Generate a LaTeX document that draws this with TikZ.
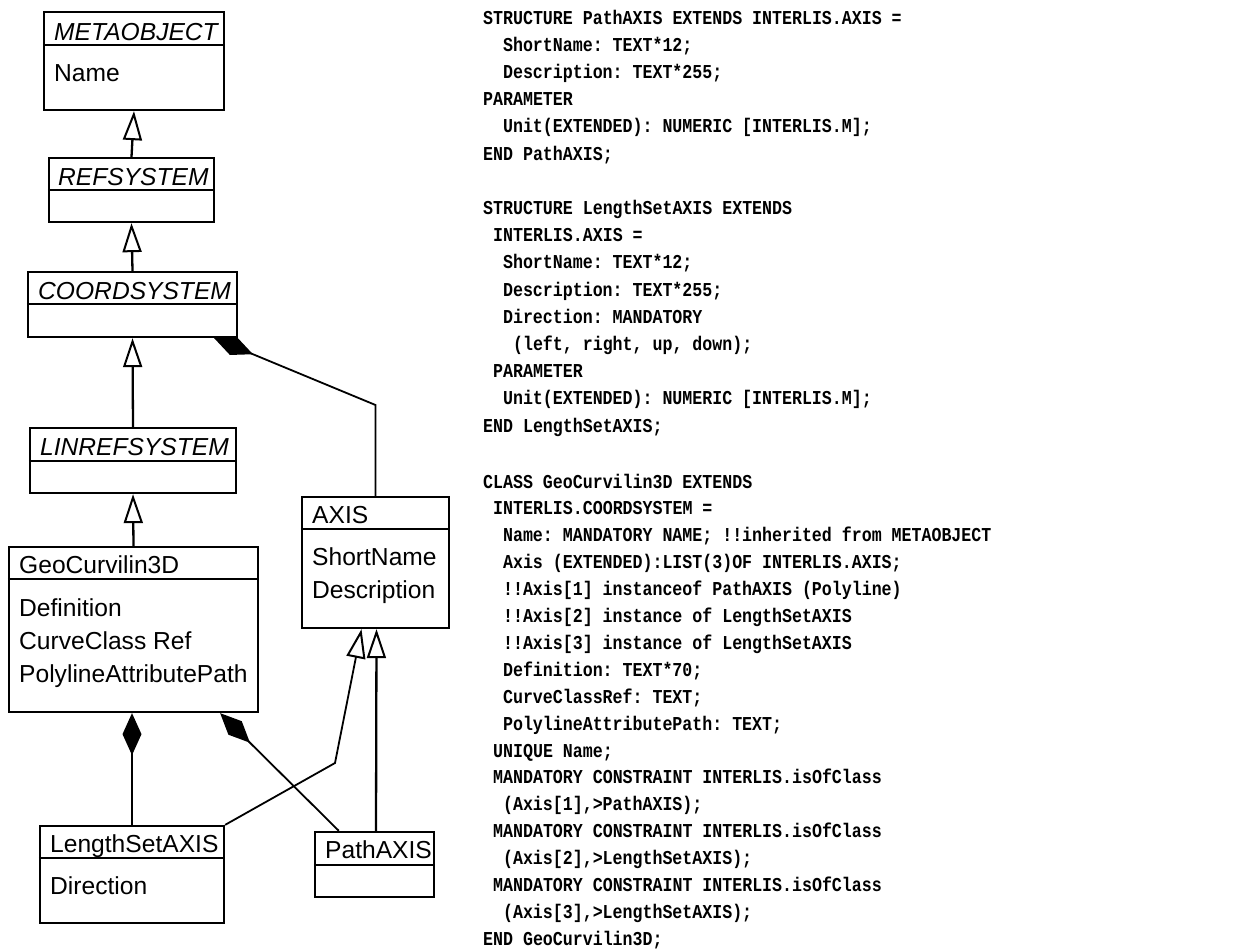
\documentclass[tikz,border=0pt]{standalone}
\usepackage{fontspec}
\setmainfont{Liberation Sans}
\newfontfamily\codefont{Liberation Mono}[FakeStretch=0.843]
\usetikzlibrary{arrows.meta}
\begin{document}
\begin{tikzpicture}[x=1pt,y=-1pt,
  box/.style={draw, line width=2.3pt, fill=white, inner sep=0pt},
  divl/.style={line width=2.1pt},
  hdr/.style={anchor=base west, inner sep=0pt, font=\fontsize{24.6pt}{26pt}\selectfont\itshape},
  hdrup/.style={anchor=base west, inner sep=0pt, font=\fontsize{24.6pt}{26pt}\selectfont},
  attr/.style={anchor=base west, inner sep=0pt, font=\fontsize{24.6pt}{26pt}\selectfont},
  code/.style={anchor=base west, inner sep=0pt, font=\frenchspacing\codefont\bfseries\fontsize{19.7pt}{22pt}\selectfont},
  gen/.style={line width=2.3pt, -{Triangle[length=29pt,width=19pt,fill=white,line width=2pt]}},
  genthin/.style={line width=1.8pt, -{Triangle[length=29pt,width=19pt,fill=white,line width=2pt]}},
  comp/.style={line width=1.8pt, {Diamond[length=42pt,width=19pt]}-},
  compthick/.style={line width=2.3pt, {Diamond[length=42pt,width=19pt]}-}
]
\useasboundingbox (0,0) rectangle (1234,951);

% ---------- class boxes ----------
\node[box, minimum width=180pt, minimum height=98pt] (meta) at (134,61) {};
\draw[divl] ([yshift=-34pt]meta.north west) -- ([yshift=-34pt]meta.north east);
\node[box, minimum width=165pt, minimum height=64pt] (ref) at (131.5,190) {};
\draw[divl] ([yshift=-33pt]ref.north west) -- ([yshift=-33pt]ref.north east);
\node[box, minimum width=209pt, minimum height=65pt] (coord) at (132.5,304.5) {};
\draw[divl] ([yshift=-33pt]coord.north west) -- ([yshift=-33pt]coord.north east);
\node[box, minimum width=206pt, minimum height=65pt] (linref) at (133,460.5) {};
\draw[divl] ([yshift=-34pt]linref.north west) -- ([yshift=-34pt]linref.north east);
\node[box, minimum width=249pt, minimum height=165pt] (geo) at (133.5,629.5) {};
\draw[divl] ([yshift=-33pt]geo.north west) -- ([yshift=-33pt]geo.north east);
\node[box, minimum width=147pt, minimum height=131pt] (axis) at (375.5,562.5) {};
\draw[divl] ([yshift=-33pt]axis.north west) -- ([yshift=-33pt]axis.north east);
\node[box, minimum width=184pt, minimum height=97pt] (lsa) at (132,874.5) {};
\draw[divl] ([yshift=-33pt]lsa.north west) -- ([yshift=-33pt]lsa.north east);
\node[box, minimum width=119pt, minimum height=65pt] (path) at (374.5,864.5) {};
\draw[divl] ([yshift=-34pt]path.north west) -- ([yshift=-34pt]path.north east);

% ---------- texts in boxes ----------
\node[hdr] (metaT) at (54,40) {METAOBJECT};
\node[attr] (metaA) at (54,81) {Name};
\node[hdr] (refT) at (58,185) {REFSYSTEM};
\node[hdr] (coordT) at (38,299) {COORDSYSTEM};
\node[hdr] (linrefT) at (40,455) {LINREFSYSTEM};
\node[hdrup] (geoT) at (19,573) {GeoCurvilin3D};
\node[attr] (geoA1) at (19,616) {Definition};
\node[attr] (geoA2) at (19,649) {CurveClass Ref};
\node[attr] (geoA3) at (19,682) {PolylineAttributePath};
\node[hdrup] (axisT) at (312,523) {AXIS};
\node[attr] (axisA1) at (312,565) {ShortName};
\node[attr] (axisA2) at (312,598) {Description};
\node[hdrup] (lsaT) at (50,852) {LengthSetAXIS};
\node[attr] (lsaA1) at (50,894) {Direction};
\node[hdrup] (pathT) at (325,858) {PathAXIS};

% ---------- connectors ----------
\draw[gen] (ref.north) -- (meta.south);
\draw[gen] (coord.north) -- (ref.south);
\draw[gen] (linref.north) -- (coord.south);
\draw[gen] (geo.north) -- (linref.south);
\coordinate (bendA) at (375.5,405);
\draw[comp] ([xshift=-24pt]coord.south east) -- (bendA) -- (axis.north);
\draw[compthick] (lsa.north |- geo.south) -- (lsa.north);
\draw[comp] ([xshift=-39pt]geo.south east) -- ([xshift=25pt]path.north west);
\coordinate (bendB) at (335,763);
\draw[genthin] (lsa.north east) -- (bendB) -- ([xshift=-14pt]axis.south);
\draw[gen] ([xshift=1.5pt]path.north) -- ([xshift=1pt]axis.south);

% ---------- code ----------
\node[code] (c1) at (483,24) {STRUCTURE PathAXIS EXTENDS INTERLIS.AXIS =};
\node[code] (c2) at (502.9,51.2) {ShortName: TEXT*12;};
\node[code] (c3) at (502.9,78.4) {Description: TEXT*255;};
\node[code] (c4) at (483,105.6) {PARAMETER};
\node[code] (c5) at (502.9,132.8) {Unit(EXTENDED): NUMERIC [INTERLIS.M];};
\node[code] (c6) at (483,160) {END PathAXIS;};
\node[code] (c8) at (483,214.4) {STRUCTURE LengthSetAXIS EXTENDS};
\node[code] (c9) at (493,241.6) {INTERLIS.AXIS =};
\node[code] (c10) at (502.9,268.8) {ShortName: TEXT*12;};
\node[code] (c11) at (502.9,296) {Description: TEXT*255;};
\node[code] (c12) at (502.9,323.2) {Direction: MANDATORY};
\node[code] (c13) at (512.9,350.4) {(left, right, up, down);};
\node[code] (c14) at (493,377.6) {PARAMETER};
\node[code] (c15) at (502.9,404.8) {Unit(EXTENDED): NUMERIC [INTERLIS.M];};
\node[code] (c16) at (483,432) {END LengthSetAXIS;};
\node[code] (c18) at (483,488) {CLASS GeoCurvilin3D EXTENDS};
\node[code] (c19) at (493,514.9) {INTERLIS.COORDSYSTEM =};
\node[code] (c20) at (502.9,541.8) {Name: MANDATORY NAME; !!inherited from METAOBJECT};
\node[code] (c21) at (502.9,568.7) {Axis (EXTENDED):LIST(3)OF INTERLIS.AXIS;};
\node[code] (c22) at (502.9,595.6) {!!Axis[1] instanceof PathAXIS (Polyline)};
\node[code] (c23) at (502.9,622.5) {!!Axis[2] instance of LengthSetAXIS};
\node[code] (c24) at (502.9,649.4) {!!Axis[3] instance of LengthSetAXIS};
\node[code] (c25) at (502.9,676.3) {Definition: TEXT*70;};
\node[code] (c26) at (502.9,703.2) {CurveClassRef: TEXT;};
\node[code] (c27) at (502.9,730.1) {PolylineAttributePath: TEXT;};
\node[code] (c28) at (493,757) {UNIQUE Name;};
\node[code] (c29) at (493,783.9) {MANDATORY CONSTRAINT INTERLIS.isOfClass};
\node[code] (c30) at (502.9,810.8) {(Axis[1],>PathAXIS);};
\node[code] (c31) at (493,837.7) {MANDATORY CONSTRAINT INTERLIS.isOfClass};
\node[code] (c32) at (502.9,864.6) {(Axis[2],>LengthSetAXIS);};
\node[code] (c33) at (493,891.5) {MANDATORY CONSTRAINT INTERLIS.isOfClass};
\node[code] (c34) at (502.9,918.4) {(Axis[3],>LengthSetAXIS);};
\node[code] (c35) at (483,945.3) {END GeoCurvilin3D;};
\end{tikzpicture}
\end{document}
